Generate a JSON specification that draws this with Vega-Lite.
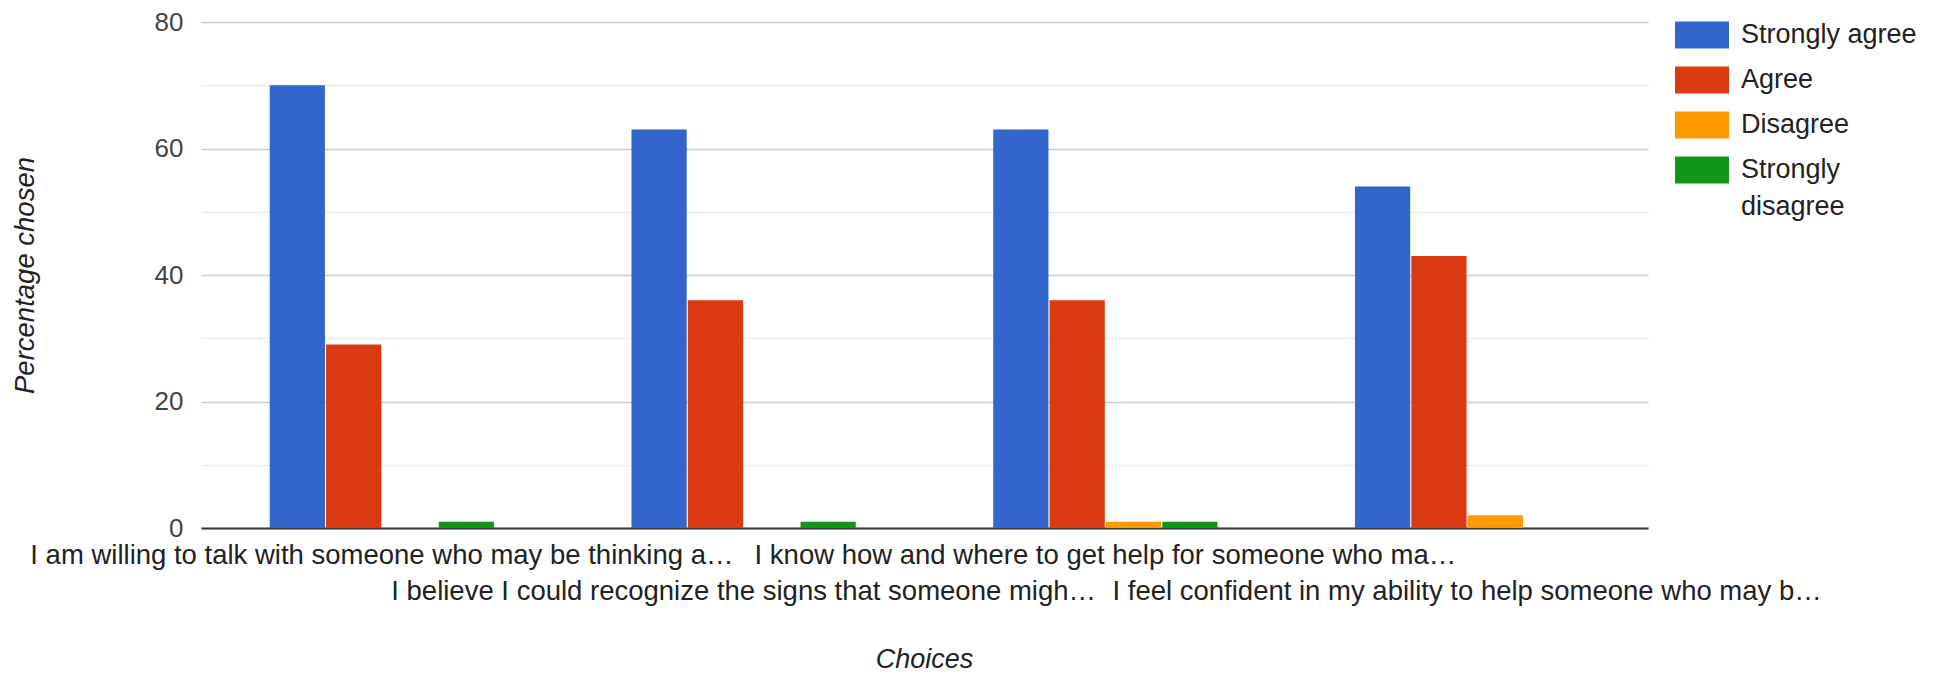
{
  "$schema": "https://vega.github.io/schema/vega-lite/v6.json",
  "width": 1447,
  "height": 506,
  "autosize": {"type": "none"},
  "padding": {"left": 201, "top": 22, "right": 288, "bottom": 147},
  "background": "white",
  "config": {"view": {"stroke": null}, "font": "Liberation Sans"},
  "data": {
    "values": [
      {"choice": "I am willing to talk with someone who may be thinking a…", "response": "Strongly agree", "pct": 70},
      {"choice": "I am willing to talk with someone who may be thinking a…", "response": "Agree", "pct": 29},
      {"choice": "I am willing to talk with someone who may be thinking a…", "response": "Disagree", "pct": 0},
      {"choice": "I am willing to talk with someone who may be thinking a…", "response": "Strongly disagree", "pct": 1},
      {"choice": "I believe I could recognize the signs that someone migh…", "response": "Strongly agree", "pct": 63},
      {"choice": "I believe I could recognize the signs that someone migh…", "response": "Agree", "pct": 36},
      {"choice": "I believe I could recognize the signs that someone migh…", "response": "Disagree", "pct": 0},
      {"choice": "I believe I could recognize the signs that someone migh…", "response": "Strongly disagree", "pct": 1},
      {"choice": "I know how and where to get help for someone who ma…", "response": "Strongly agree", "pct": 63},
      {"choice": "I know how and where to get help for someone who ma…", "response": "Agree", "pct": 36},
      {"choice": "I know how and where to get help for someone who ma…", "response": "Disagree", "pct": 1},
      {"choice": "I know how and where to get help for someone who ma…", "response": "Strongly disagree", "pct": 1},
      {"choice": "I feel confident in my ability to help someone who may b…", "response": "Strongly agree", "pct": 54},
      {"choice": "I feel confident in my ability to help someone who may b…", "response": "Agree", "pct": 43},
      {"choice": "I feel confident in my ability to help someone who may b…", "response": "Disagree", "pct": 2},
      {"choice": "I feel confident in my ability to help someone who may b…", "response": "Strongly disagree", "pct": 0}
    ]
  },
  "mark": {"type": "bar"},
  "encoding": {
    "x": {
      "field": "choice",
      "type": "nominal",
      "sort": null,
      "scale": {"paddingInner": 0.38, "paddingOuter": 0.19},
      "axis": {
        "title": "Choices",
        "titleFont": "Liberation Sans",
        "titleFontStyle": "italic",
        "titleFontWeight": "normal",
        "titleFontSize": 27,
        "titleColor": "#222222",
        "titleBaseline": "middle",
        "titleX": 723,
        "titleY": 131,
        "labelAngle": 0,
        "labelFontSize": 27.5,
        "labelColor": "#222222",
        "labelLimit": 0,
        "labelBaseline": "middle",
        "labelPadding": {"condition": {"test": "indexof(datum.value, 'I believe') === 0 || indexof(datum.value, 'I feel') === 0", "value": 63}, "value": 27},
        "ticks": false,
        "domainColor": "#333333",
        "domainWidth": 2,
        "grid": false
      }
    },
    "xOffset": {
      "field": "response",
      "type": "nominal",
      "sort": ["Strongly agree", "Agree", "Disagree", "Strongly disagree"],
      "scale": {"paddingInner": 0.02}
    },
    "y": {
      "field": "pct",
      "type": "quantitative",
      "scale": {"domain": [0, 80], "nice": false},
      "axis": {
        "title": "Percentage chosen",
        "titleFont": "Liberation Sans",
        "titleFontStyle": "italic",
        "titleFontWeight": "normal",
        "titleFontSize": 27.5,
        "titleColor": "#222222",
        "titleBaseline": "middle",
        "titleX": -176,
        "titleY": 253,
        "values": [0, 10, 20, 30, 40, 50, 60, 70, 80],
        "labelExpr": "datum.value % 20 === 0 ? datum.label : ''",
        "labelFontSize": 26,
        "labelColor": "#444444",
        "labelPadding": 18,
        "ticks": false,
        "domain": false,
        "gridColor": {"condition": {"test": "datum.value % 20 === 0", "value": "#cccccc"}, "value": "#ebebeb"},
        "gridWidth": 1.5
      }
    },
    "color": {
      "field": "response",
      "type": "nominal",
      "sort": ["Strongly agree", "Agree", "Disagree", "Strongly disagree"],
      "scale": {
        "domain": ["Strongly agree", "Agree", "Disagree", "Strongly disagree"],
        "range": ["#3366cc", "#dc3912", "#ff9900", "#109618"]
      },
      "legend": {
        "title": null,
        "orient": "none",
        "legendX": 1474,
        "legendY": -14,
        "symbolType": "M-1,-0.5H1V0.5H-1Z",
        "symbolSize": 2916,
        "symbolStrokeWidth": 0,
        "symbolOpacity": 1,
        "labelFontSize": 27,
        "labelColor": "#222222",
        "labelOffset": 12,
        "labelLimit": 0,
        "rowPadding": 4,
        "labelExpr": "datum.label === 'Strongly disagree' ? ['Strongly', 'disagree'] : datum.label",
        "encode": {
          "labels": {
            "update": {
              "lineHeight": {"value": 37}
            }
          }
        }
      }
    }
  }
}
